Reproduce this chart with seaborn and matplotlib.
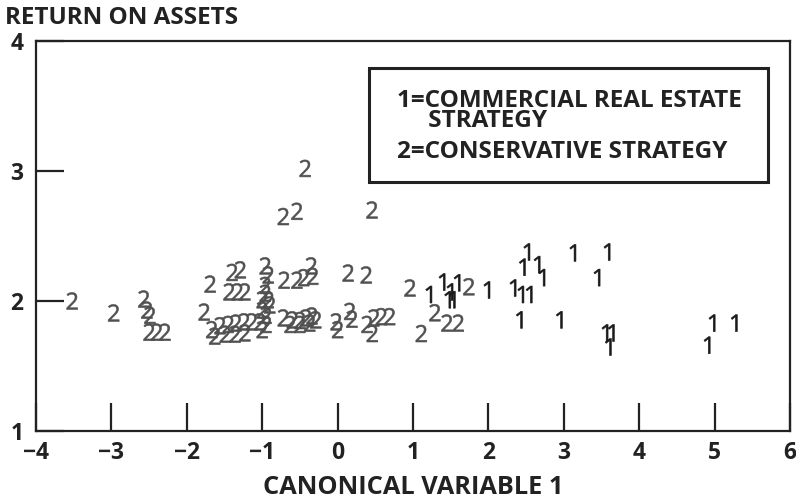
import matplotlib
matplotlib.use("Agg")
import matplotlib.pyplot as plt
import seaborn as sns
import pandas as pd
from matplotlib.patches import Rectangle

# Class 1: commercial real estate strategy
x1 = [1.21, 1.385, 1.49, 1.46, 1.52, 1.584, 1.98, 2.326, 2.43, 2.54, 2.41, 2.94,
      2.51, 2.45, 2.645, 2.71, 3.12, 3.573, 3.44, 3.546, 3.63, 3.59, 4.966, 5.26, 4.90]
y1 = [2.05, 2.146, 2.07, 2.01, 2.01, 2.14, 2.085, 2.10, 2.05, 2.05, 1.855, 1.855,
      2.377, 2.26, 2.28, 2.18, 2.37, 2.377, 2.18, 1.754, 1.754, 1.646, 1.83, 1.83, 1.66]

# Class 2: conservative strategy
x2 = [-3.52, -2.97, -2.57, -2.53, -2.49, -2.50, -2.40, -2.29, -1.77, -1.69,
      -1.40, -1.29, -1.44, -1.33, -1.23, -1.67, -1.56, -1.45, -1.35, -1.24, -1.14,
      -1.63, -1.49, -1.36, -1.23, -0.96, -0.92, -0.96, -0.96, -1.00, -0.92, -0.90,
      -1.00, -0.95, -1.03, -0.95, -1.00, -0.71, -0.54, -0.45, -0.35, -0.33,
      -0.72, -0.60, -0.50, -0.42, -0.34, -0.29, -0.63, -0.50, -0.37,
      -0.43, -0.72, -0.54, 0.456, 0.14, 0.38, -0.02, 0.00, 0.16, 0.19,
      0.39, 0.48, 0.58, 0.69, 0.46, 0.96, 1.29, 1.11, 1.45, 1.60, 1.74]
y2 = [2.00, 1.908, 2.015, 1.93, 1.89, 1.76, 1.76, 1.76, 1.915, 2.13,
      2.22, 2.24, 2.07, 2.07, 2.07, 1.78, 1.81, 1.82, 1.83, 1.84, 1.84,
      1.73, 1.745, 1.745, 1.755, 2.27, 2.20, 2.12, 2.06, 2.01, 2.01, 1.97,
      1.93, 1.89, 1.84, 1.82, 1.78, 2.16, 2.16, 2.18, 2.27, 2.19,
      1.87, 1.855, 1.85, 1.87, 1.885, 1.855, 1.82, 1.82, 1.83,
      3.02, 2.65, 2.69, 2.70, 2.215, 2.20, 1.84, 1.78, 1.92, 1.86,
      1.82, 1.87, 1.88, 1.88, 1.75, 2.10, 1.91, 1.75, 1.83, 1.83, 2.11]

x_ticks = [-4, -3, -2, -1, 0, 1, 2, 3, 4, 5, 6]
y_ticks = [1, 2, 3, 4]
title = "RETURN ON ASSETS"
xlabel = "CANONICAL VARIABLE 1"
legend_text = ["1=COMMERCIAL REAL ESTATE", "STRATEGY", "2=CONSERVATIVE STRATEGY"]

df = pd.DataFrame({
    "cv1": x1 + x2,
    "roa": y1 + y2,
    "group": ["1"] * len(x1) + ["2"] * len(x2),
})

sns.set_style("white")
plt.rcParams["font.family"] = ["Open Sans", "DejaVu Sans"]
plt.rcParams["mathtext.fontset"] = "custom"
plt.rcParams["mathtext.rm"] = "Open Sans"
plt.rcParams["axes.unicode_minus"] = True

fig = plt.figure(figsize=(7.96, 5.01), dpi=100)
ax = fig.add_axes([36 / 796, 1 - 431 / 501, 754 / 796, 390 / 501])

palette = {"1": "#1a1a1a", "2": "#505050"}
sns.scatterplot(data=df, x="cv1", y="roa", hue="group", style="group",
                markers={"1": r"$\mathrm{1}$", "2": r"$\mathrm{2}$"},
                palette=palette, s=150, linewidth=0.4,
                edgecolor="face", legend=False, ax=ax)

ax.set_xlim(-4, 6)
ax.set_ylim(1, 4)
ax.set_xticks(x_ticks)
ax.set_yticks(y_ticks)
ax.set_xticklabels([f"\u2212{abs(t)}" if t < 0 else str(t) for t in x_ticks],
                   fontsize=16.5, fontweight="bold", color="#222222")
ax.set_yticklabels([str(t) for t in y_ticks], fontsize=16.5, fontweight="bold",
                   color="#222222")
ax.tick_params(axis="both", direction="in", length=20, width=1.6,
               color="#222222", bottom=True, left=True)
ax.tick_params(axis="x", pad=7)
ax.tick_params(axis="y", pad=9)
ax.set_xlabel("")
ax.set_ylabel("")
for sp in ax.spines.values():
    sp.set_visible(True)
    sp.set_linewidth(1.6)
    sp.set_color("#222222")

fig.text(5 / 796, 1 - 18 / 501, title, fontsize=17.5, fontweight="bold",
         va="center", ha="left", color="#222222")
fig.text(413 / 796, 1 - 488 / 501, xlabel, fontsize=18.3, fontweight="bold",
         va="center", ha="center", color="#222222")

ax.add_patch(Rectangle((0.4416, 0.638), 0.5294, 0.293, transform=ax.transAxes,
                       fill=False, edgecolor="#222222", linewidth=2.2))
fig.text(397 / 796, 1 - 111 / 501,
         legend_text[0] + "\n" + "     " + legend_text[1],
         fontsize=17.5, fontweight="bold", linespacing=0.8,
         va="center", ha="left", color="#222222")
fig.text(397 / 796, 1 - 152 / 501, legend_text[2], fontsize=17.5, fontweight="bold",
         va="center", ha="left", color="#222222")

fig.savefig("out.png", dpi=100)
